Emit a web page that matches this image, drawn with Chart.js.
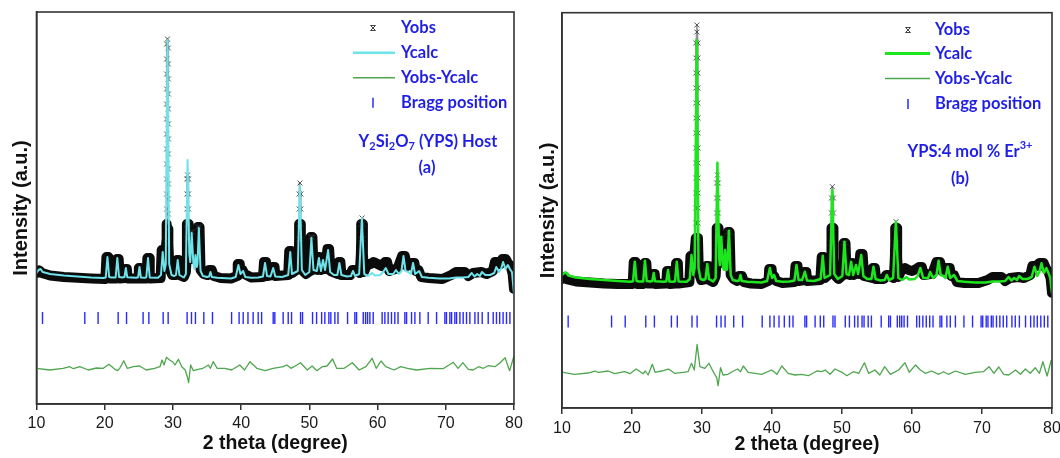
<!DOCTYPE html>
<html><head><meta charset="utf-8">
<script src="https://cdn.jsdelivr.net/npm/chart.js@4.4.0/dist/chart.umd.min.js"></script>
<style>
html,body{margin:0;padding:0;background:#fff;}
#wrap{position:relative;width:1060px;height:458px;overflow:hidden;background:#fff;}
canvas{position:absolute;top:0;}
#c1{left:0}#c2{left:530px}
</style></head><body>
<div id="wrap"><canvas id="c1" width="530" height="458"></canvas><canvas id="c2" width="530" height="458"></canvas></div>
<script>
// ---------- shared ----------
const X_TICKS = [10, 20, 30, 40, 50, 60, 70, 80];
const BRAGG_POS = [10.88,17.08,19.03,21.97,23.2,25.63,26.47,28.57,29.3,32.08,32.72,33.3,34.53,35.8,38.6,39.7,40.3,41.0,41.76,42.5,43.0,44.7,44.94,46.16,46.9,47.39,48.71,49.0,50.47,51.06,51.8,52.27,52.86,53.15,53.74,54.2,55.6,56.67,56.92,57.9,58.24,58.53,58.87,59.36,60.67,61.07,61.55,62.04,62.53,63.0,64.0,64.25,64.98,65.47,66.2,67.42,68.65,69.87,70.1,70.6,70.85,71.33,71.58,72.07,72.55,73.04,73.53,74.27,74.75,75.34,76.22,76.95,77.43,77.9,78.4,78.9,79.4];

// ---------- panel (a): Y2Si2O7 host ----------
const A_YMAX = 3920;
const A_BRAGG_LEVEL = 860;
const A_YCALC = [
[10.0,1310],[10.3,1340],[10.6,1350],[10.9,1320],[12.0,1300],[14.0,1285],[16.0,1275],[18.0,1265],[19.8,1260],
[20.15,1265],[20.4,1470],[20.65,1270],[21.0,1265],
[21.6,1265],[21.85,1460],[22.1,1270],[22.6,1265],
[22.9,1270],[23.1,1360],[23.3,1268],[24.6,1262],
[24.9,1268],[25.1,1370],[25.3,1265],[25.9,1262],
[26.1,1268],[26.35,1460],[26.6,1265],[27.8,1262],
[28.25,1290],[28.5,1520],[28.75,1330],
[28.95,1400],[29.2,3640],[29.45,1400],
[29.8,1290],[30.2,1280],[30.45,1290],[30.7,1440],[30.95,1290],
[31.6,1265],[31.9,1300],[32.15,2440],[32.4,1500],
[32.55,1420],[32.75,1710],[33.0,1400],
[33.15,1350],[33.3,1490],[33.5,1370],
[33.6,1400],[33.8,1760],[34.05,1330],
[34.4,1280],[35.0,1270],[35.3,1275],[35.5,1320],[35.7,1270],
[36.5,1262],[38.5,1255],[39.2,1270],[39.6,1390],[39.9,1300],[40.3,1330],[40.6,1270],
[41.5,1262],[42.5,1265],[43.2,1275],[43.5,1410],[43.8,1280],[44.3,1275],[44.7,1360],[45.0,1275],
[46.0,1270],[46.9,1290],[47.2,1520],[47.45,1300],
[48.3,1330],[48.6,2180],[48.9,1340],
[49.4,1290],[50.0,1320],[50.3,1660],[50.6,1340],
[51.1,1330],[51.4,1460],[51.7,1330],[52.0,1440],[52.3,1340],[52.75,1540],[53.05,1320],
[53.6,1290],[54.1,1290],[54.4,1410],[54.7,1290],
[55.5,1275],[56.1,1280],[56.4,1330],[56.7,1280],[57.3,1300],[57.7,1860],[58.05,1300],
[58.6,1280],[59.2,1310],[59.6,1285],[60.4,1290],[60.8,1320],[61.2,1360],[61.6,1300],[62.3,1300],[62.7,1340],[63.1,1300],[63.5,1330],[63.8,1480],[64.1,1330],[64.5,1320],[64.9,1300],[65.2,1410],[65.5,1300],[66.1,1330],[66.5,1270],
[67.5,1262],[69.0,1255],[70.5,1255],[71.5,1265],[72.5,1265],[73.3,1270],[73.8,1310],[74.2,1275],[74.6,1300],[75.0,1280],[75.3,1320],[75.8,1290],[76.5,1290],[77.1,1310],[77.4,1370],[77.8,1320],[78.1,1350],[78.4,1420],[78.75,1350],[79.1,1390],[79.4,1350],[79.7,1320],[80.0,1100]
];
const A_YOBS = [
[10.0,1310],[10.4,1335],[10.8,1310],[12.0,1285],[14.0,1270],[16.0,1262],[18.0,1255],[20.1,1250],
[20.25,1470],[20.55,1470],[20.7,1255],
[21.65,1255],[21.8,1450],[22.05,1450],[22.2,1255],
[22.95,1260],[23.05,1350],[23.25,1350],[23.35,1255],
[24.9,1255],[25.0,1360],[25.25,1360],[25.35,1255],
[26.15,1255],[26.25,1460],[26.5,1460],[26.6,1255],
[28.2,1260],[28.35,1540],[28.6,1540],[28.95,1560],
[29.08,1650],[29.08,1800],[29.08,1950],[29.08,2100],[29.08,2250],[29.08,2400],[29.08,2550],[29.08,2700],[29.08,2850],[29.08,3000],[29.08,3150],[29.08,3300],[29.08,3450],[29.08,3600],
[29.2,3650],
[29.33,3560],[29.33,3400],[29.33,3250],[29.33,3100],[29.33,2950],[29.33,2800],[29.33,2650],[29.33,2500],[29.33,2350],[29.33,2200],[29.33,2050],[29.33,1900],[29.33,1750],[29.33,1600],
[29.5,1350],[29.9,1290],[30.5,1290],[30.6,1440],[30.85,1440],[30.95,1290],[31.6,1270],[31.9,1320],
[32.05,1500],[32.05,1650],[32.05,1800],[32.05,1950],[32.05,2100],[32.05,2250],[32.15,2290],
[32.28,2250],[32.28,2100],[32.28,1950],[32.28,1800],[32.28,1650],
[32.35,1500],[32.55,1450],[32.6,1720],[32.85,1720],[33.0,1450],[33.2,1500],[33.3,1500],[33.4,1450],[33.65,1770],[33.9,1770],[34.05,1340],
[34.5,1300],[35.0,1290],[35.3,1340],[35.7,1340],[36.0,1280],[37.0,1260],[38.5,1255],[39.4,1280],[39.5,1400],[39.8,1400],[39.9,1310],[40.2,1340],[40.5,1300],
[41.5,1265],[43.2,1270],[43.35,1420],[43.65,1420],[43.8,1280],[44.55,1290],[44.6,1370],[44.9,1370],[45.0,1280],
[46.9,1290],[47.05,1530],[47.35,1530],[47.5,1310],
[48.3,1350],[48.45,1500],[48.5,1650],[48.5,1800],[48.5,1950],[48.5,2100],[48.62,2210],[48.75,2100],[48.75,1950],[48.75,1800],[48.75,1650],[48.75,1500],
[48.9,1340],[49.5,1300],[50.1,1330],[50.2,1670],[50.45,1670],[50.6,1350],
[51.2,1340],[51.3,1470],[51.5,1470],[51.7,1340],[51.9,1450],[52.1,1450],[52.35,1350],[52.65,1550],[52.9,1550],[53.1,1330],
[54.2,1300],[54.3,1420],[54.55,1420],[54.7,1290],[56.0,1290],[56.3,1340],[56.6,1340],
[57.4,1310],[57.55,1500],[57.6,1650],[57.6,1800],[57.72,1860],[57.85,1800],[57.85,1650],[57.85,1500],
[58.0,1320],[58.5,1400],[59.0,1400],[59.4,1420],[60.0,1400],[60.6,1380],[60.8,1400],[61.1,1420],[61.4,1420],[61.7,1330],
[62.6,1350],[62.9,1350],[63.6,1480],[64.0,1480],[64.3,1380],[65.0,1410],[65.4,1410],[65.6,1330],[66.0,1340],[66.4,1270],
[67.5,1260],[69.5,1250],[70.8,1290],[71.5,1320],[72.8,1320],[73.3,1280],[74.0,1310],[75.2,1320],[76.0,1300],[76.9,1330],
[77.2,1420],[77.8,1420],[78.0,1400],[78.3,1450],[78.8,1450],[79.1,1410],[79.5,1380],[79.8,1300],[80.0,1150]
];
const A_DIFF = [
[10.0,357],[11.95,340],[13.9,357],[14.9,373],[15.4,353],[16.35,373],[17.6,340],[18.8,360],[19.8,357],[20.6,397],[21.5,347],[21.9,333],[22.2,357],[22.8,433],[23.3,357],[24.2,373],[25.1,380],[26.1,340],[27.3,357],[28.1,373],[28.4,440],[28.7,390],[29.05,467],[29.5,440],[30.0,420],[30.3,390],[30.8,447],[31.3,373],[31.8,340],[32.1,273],[32.3,213],[32.6,390],[33.0,333],[33.7,347],[34.4,357],[35.2,390],[35.5,357],[35.9,423],[36.5,357],[37.6,357],[38.6,340],[39.8,390],[40.5,340],[41.3,423],[42.3,357],[43.5,333],[44.7,357],[46.2,373],[46.7,390],[47.3,357],[47.75,373],[48.7,413],[49.7,340],[50.4,380],[51.1,333],[51.9,373],[52.6,380],[53.4,450],[54.0,357],[55.1,357],[56.3,413],[57.3,340],[58.3,373],[59.2,457],[59.8,357],[60.5,430],[61.2,373],[62.4,340],[63.4,373],[64.4,357],[65.7,340],[67.7,357],[69.6,353],[71.1,417],[71.8,357],[72.5,413],[73.3,347],[74.0,340],[74.8,373],[75.5,357],[76.2,383],[77.2,373],[77.9,407],[78.7,463],[79.35,333],[80.0,480]
];

// ---------- panel (b): YPS:4 mol % Er3+ ----------
const B_YMAX = 3953;
const B_BRAGG_LEVEL = 865;
const B_YCALC = [
[10.0,1330],[10.3,1350],[10.6,1355],[10.9,1325],[12.0,1305],[14.0,1290],[16.0,1280],[18.0,1270],[19.8,1263],
[20.15,1268],[20.4,1463],[20.65,1270],[21.0,1265],
[21.6,1265],[21.85,1473],[22.1,1270],[22.6,1265],
[22.9,1270],[23.1,1350],[23.3,1268],[24.6,1262],
[24.9,1268],[25.15,1380],[25.35,1265],[25.9,1262],
[26.15,1268],[26.4,1463],[26.65,1265],[27.8,1262],
[28.25,1290],[28.5,1530],[28.75,1330],
[28.95,1400],[29.25,3680],[29.5,1400],
[29.8,1290],[30.2,1280],[30.5,1290],[30.75,1440],[31.0,1290],
[31.6,1265],[31.95,1300],[32.2,2453],[32.45,1500],
[32.55,1430],[32.75,1713],[33.0,1400],
[33.15,1380],[33.3,1580],[33.5,1380],
[33.6,1400],[33.85,1773],[34.1,1330],
[34.4,1280],[35.0,1270],[35.3,1275],[35.5,1330],[35.7,1270],
[36.5,1262],[38.5,1255],[39.3,1270],[39.7,1400],[40.0,1300],[40.3,1330],[40.6,1270],
[41.5,1262],[42.5,1265],[43.2,1275],[43.5,1430],[43.8,1280],[44.3,1280],[44.7,1363],[45.0,1275],
[46.0,1270],[46.95,1290],[47.25,1523],[47.5,1300],
[48.3,1330],[48.6,2180],[48.9,1340],
[49.4,1290],[50.05,1320],[50.35,1663],[50.65,1340],
[51.0,1330],[51.3,1463],[51.6,1330],[52.0,1430],[52.3,1340],[52.75,1530],[53.05,1320],
[53.6,1290],[54.2,1290],[54.5,1413],[54.8,1290],
[55.5,1275],[56.1,1280],[56.4,1330],[56.7,1280],[57.3,1300],[57.7,1863],[58.05,1300],
[58.6,1280],[59.2,1310],[59.6,1285],[60.4,1290],[60.8,1320],[61.2,1400],[61.6,1300],[62.3,1300],[62.6,1360],[63.0,1300],[63.5,1330],[63.8,1473],[64.1,1330],[64.5,1320],[64.8,1300],[65.1,1413],[65.45,1300],[66.0,1330],[66.5,1270],
[67.5,1262],[69.0,1255],[70.5,1255],[71.5,1265],[72.5,1265],[73.3,1270],[73.8,1310],[74.2,1275],[74.6,1300],[75.0,1280],[75.3,1320],[75.8,1290],[76.5,1290],[77.1,1310],[77.5,1413],[77.9,1320],[78.2,1360],[78.5,1447],[78.85,1350],[79.2,1400],[79.5,1350],[79.75,1300],[80.0,1150]
];
const B_YOBS = [
[10.0,1290],[10.4,1310],[10.8,1285],[12.0,1265],[14.0,1255],[16.0,1245],[18.0,1240],[20.1,1240],
[20.25,1460],[20.55,1460],[20.7,1240],
[21.65,1240],[21.8,1450],[22.05,1450],[22.2,1245],
[22.95,1245],[23.05,1340],[23.25,1340],[23.35,1240],
[24.9,1245],[25.0,1370],[25.3,1370],[25.4,1240],
[26.2,1245],[26.3,1450],[26.55,1450],[26.65,1245],
[28.2,1260],[28.35,1520],[28.6,1520],[28.95,1560],
[29.12,1700],[29.12,1850],[29.12,2000],[29.12,2150],[29.12,2300],[29.12,2450],[29.12,2600],[29.12,2750],[29.12,2900],[29.12,3050],[29.12,3200],[29.12,3350],[29.12,3500],[29.12,3650],
[29.27,3760],[29.27,3830],
[29.42,3650],[29.42,3500],[29.42,3350],[29.42,3200],[29.42,3050],[29.42,2900],[29.42,2750],[29.42,2600],[29.42,2450],[29.42,2300],[29.42,2150],[29.42,2000],[29.42,1850],[29.42,1700],
[29.55,1350],[29.9,1280],[30.55,1290],[30.65,1420],[30.95,1420],[31.05,1280],[31.6,1260],[31.95,1320],
[32.1,1500],[32.1,1650],[32.1,1800],[32.1,1950],[32.1,2100],[32.1,2250],[32.2,2330],
[32.32,2250],[32.32,2100],[32.32,1950],[32.32,1800],[32.32,1650],
[32.4,1500],[32.55,1450],[32.62,1700],[32.9,1700],[33.05,1450],[33.2,1560],[33.4,1560],[33.55,1450],[33.7,1760],[33.95,1760],[34.1,1330],
[34.5,1290],[35.0,1270],[35.3,1320],[35.7,1320],[36.0,1260],[37.0,1245],[38.5,1240],[39.5,1270],[39.6,1390],[39.95,1390],[40.05,1290],[40.3,1320],[40.6,1270],
[41.5,1250],[43.2,1260],[43.35,1420],[43.65,1420],[43.8,1270],[44.55,1280],[44.6,1360],[44.9,1360],[45.0,1270],
[46.9,1280],[47.1,1510],[47.4,1510],[47.55,1300],
[48.35,1350],[48.45,1500],[48.5,1650],[48.5,1800],[48.5,1950],[48.5,2100],[48.62,2213],[48.78,2100],[48.78,1950],[48.78,1800],[48.78,1650],[48.78,1500],
[48.95,1330],[49.5,1290],[50.15,1330],[50.25,1650],[50.5,1650],[50.65,1340],
[51.15,1330],[51.25,1450],[51.45,1450],[51.65,1330],[51.9,1420],[52.1,1420],[52.4,1340],[52.6,1540],[52.95,1540],[53.15,1320],
[54.3,1300],[54.4,1400],[54.7,1400],[54.85,1290],[56.0,1290],[56.3,1330],[56.6,1330],
[57.4,1300],[57.55,1500],[57.6,1650],[57.6,1800],[57.72,1863],[57.88,1800],[57.88,1650],[57.88,1500],
[58.05,1310],[58.5,1380],[59.0,1400],[59.5,1380],[60.0,1370],[60.6,1390],[61.0,1410],[61.4,1410],[61.7,1330],
[62.6,1340],[62.9,1340],[63.5,1460],[64.0,1460],[64.3,1370],[65.0,1400],[65.4,1400],[65.6,1320],[66.0,1330],[66.4,1260],
[67.5,1250],[69.5,1250],[70.8,1280],[71.5,1310],[72.8,1310],[73.3,1270],[74.0,1300],[75.2,1310],[76.0,1300],[76.9,1330],
[77.2,1420],[77.8,1420],[78.2,1450],[78.8,1450],[79.1,1400],[79.5,1360],[79.8,1300],[80.0,1150]
];
const B_DIFF = [
[10.15,357],[11.8,337],[13.7,350],[14.7,370],[15.2,357],[16.6,370],[17.5,343],[18.97,363],[19.7,343],[20.6,390],[21.6,343],[21.9,370],[22.3,330],[22.9,437],[23.3,357],[24.2,370],[25.2,390],[26.1,347],[27.3,357],[28.0,363],[28.5,447],[28.9,380],[29.3,637],[29.7,413],[30.4,397],[30.99,447],[31.6,363],[32.1,303],[32.3,223],[32.65,403],[33.0,330],[33.7,337],[34.5,370],[35.1,390],[35.5,363],[35.9,420],[36.6,357],[37.6,347],[38.5,337],[39.95,380],[40.7,337],[41.4,420],[42.3,347],[43.3,330],[44.2,337],[45.2,323],[46.4,370],[47.1,363],[47.6,380],[48.3,337],[49.0,390],[50.0,357],[50.7,323],[51.6,363],[52.4,347],[53.2,453],[53.8,347],[54.7,380],[55.4,330],[56.1,413],[56.9,337],[58.1,380],[59.0,453],[59.6,357],[60.5,430],[61.2,380],[61.9,347],[62.8,370],[63.8,337],[64.5,363],[65.2,337],[66.2,370],[67.6,337],[69.0,357],[70.2,363],[71.0,413],[71.7,347],[72.4,410],[73.1,337],[73.8,330],[74.8,380],[75.5,337],[76.2,390],[76.9,347],[77.6,403],[78.2,347],[78.7,463],[79.3,320],[79.9,480]
];

// ---------- styles ----------
const TEXT_BLUE = '#1e1ee6';
const FRAME = '#333333';
const AXIS_FONT = "'Liberation Sans', Arial, sans-serif";
const LEGEND_FONT = "Lato, 'Open Sans', sans-serif";

function drawCross(ctx, x, y, r, color) {
  ctx.save();
  ctx.strokeStyle = color; ctx.lineWidth = 1;
  ctx.beginPath();
  ctx.moveTo(x - r, y - r); ctx.lineTo(x + r, y + r);
  ctx.moveTo(x + r, y - r); ctx.lineTo(x - r, y + r);
  ctx.moveTo(x - r, y - r); ctx.lineTo(x + r, y - r);
  ctx.moveTo(x - r, y + r); ctx.lineTo(x + r, y + r);
  ctx.stroke();
  ctx.restore();
}

function drawRich(ctx, parts, cx, cy, size) {
  const small = Math.round(size * 0.66);
  let total = 0;
  const widths = parts.map(([t, k]) => {
    ctx.font = 'bold ' + (k ? small : size) + 'px ' + LEGEND_FONT;
    const w = ctx.measureText(t).width; total += w; return w;
  });
  let x = cx - total / 2;
  parts.forEach(([t, k], i) => {
    ctx.font = 'bold ' + (k ? small : size) + 'px ' + LEGEND_FONT;
    const dy = k === 'sub' ? size * 0.28 : (k === 'sup' ? -size * 0.38 : 0);
    ctx.fillText(t, x, cy + dy);
    x += widths[i];
  });
}

function legendPlugin(L) {
  return {
    id: 'rietveldLegend',
    afterDraw(chart) {
      const ctx = chart.ctx;
      const ds = chart.data.datasets;
      ctx.save();
      ctx.textBaseline = 'middle'; ctx.textAlign = 'left';
      ctx.fillStyle = TEXT_BLUE;
      ctx.font = 'bold ' + L.size + 'px ' + LEGEND_FONT;
      drawCross(ctx, L.markX, L.rows[0], 2.5, '#444');
      ctx.fillText(ds[1].label, L.textX, L.rows[0]);
      ctx.strokeStyle = ds[0].borderColor; ctx.lineWidth = L.calcW;
      ctx.beginPath(); ctx.moveTo(L.lineX0, L.rows[1]); ctx.lineTo(L.lineX1, L.rows[1]); ctx.stroke();
      ctx.fillText(ds[0].label, L.textX, L.rows[1]);
      ctx.strokeStyle = ds[2].borderColor; ctx.lineWidth = 1.6;
      ctx.beginPath(); ctx.moveTo(L.lineX0, L.rows[2]); ctx.lineTo(L.lineX1, L.rows[2]); ctx.stroke();
      ctx.fillText(ds[2].label, L.textX, L.rows[2]);
      ctx.strokeStyle = ds[3].borderColor; ctx.lineWidth = 1.5;
      ctx.beginPath(); ctx.moveTo(L.markX, L.rows[3] - 5); ctx.lineTo(L.markX, L.rows[3] + 5); ctx.stroke();
      ctx.fillText(ds[3].label, L.textX, L.rows[3]);
      drawRich(ctx, L.note, L.noteX, L.noteY, L.size);
      ctx.font = 'bold ' + L.size + 'px ' + LEGEND_FONT;
      ctx.textAlign = 'center';
      ctx.fillText(L.tag, L.tagX, L.tagY);
      ctx.restore();
    }
  };
}

const framePlugin = {
  id: 'frame',
  afterDraw(chart) {
    const {ctx, chartArea: a} = chart;
    ctx.save();
    ctx.strokeStyle = FRAME; ctx.lineWidth = 1.6;
    ctx.strokeRect(a.left, a.top, a.right - a.left, a.bottom - a.top);
    ctx.restore();
  }
};

function makeChart(id, P) {
  const thin = P.thinAbove;
  const isThin = (c) => P.obs[c.p0DataIndex][1] >= thin && P.obs[c.p1DataIndex][1] >= thin;
  const datasets = [
    { label: 'Ycalc', data: P.calc, showLine: true, borderColor: P.calcColor, borderWidth: P.calcW,
      pointRadius: 0, borderJoinStyle: 'round', order: 0 },
    { label: 'Yobs', data: P.obs, showLine: true, borderColor: '#0b0b0b', borderWidth: 10,
      borderJoinStyle: 'round', borderCapStyle: 'round', order: 2,
      pointStyle: 'crossRot', pointBorderColor: 'rgba(55,55,55,0.85)', pointBackgroundColor: 'rgba(0,0,0,0)', pointBorderWidth: 1,
      pointRadius: (c) => { const v = P.obs[c.dataIndex]; return v && v[1] >= 1600 ? 3.5 : 0; },
      segment: {
        borderWidth: (c) => isThin(c) ? 1.5 : undefined,
        borderColor: (c) => isThin(c) ? 'rgba(110,110,110,0.75)' : undefined
      } },
    { label: 'Yobs-Ycalc', data: P.diff, showLine: true, borderColor: '#4ea64e', borderWidth: 1.3,
      pointRadius: 0, borderJoinStyle: 'round', order: 3 },
    { label: 'Bragg position', data: BRAGG_POS.map(x => ({x: x, y: P.braggLevel})), showLine: false,
      pointStyle: 'line', rotation: 90, pointRadius: 6, borderColor: '#2a2aff', pointBorderColor: '#2a2aff', pointBorderWidth: 1.4, order: 4 }
  ];
  return new Chart(document.getElementById(id), {
    type: 'scatter',
    data: { datasets },
    options: {
      responsive: false, animation: false, devicePixelRatio: 1, events: [],
      layout: { padding: { top: P.padTop, right: P.padRight, left: 0, bottom: 0 } },
      plugins: { legend: { display: false }, tooltip: { enabled: false } },
      scales: {
        x: {
          type: 'linear', min: 10, max: 80,
          afterBuildTicks: (s) => { s.ticks = X_TICKS.map(v => ({ value: v })); },
          afterFit: (s) => { s.height = P.xAxisH; s.paddingLeft = 0; s.paddingRight = 0; },
          ticks: { color: '#1a1a1a', font: { family: AXIS_FONT, size: 16 }, padding: P.tickPad, maxRotation: 0, autoSkip: false },
          grid: { display: true, drawOnChartArea: false, drawTicks: true, tickLength: 6, color: FRAME, lineWidth: 1.5 },
          border: { display: true, color: FRAME, width: 1.6 },
          title: { display: true, text: '2 theta (degree)', color: '#111', font: { family: AXIS_FONT, size: 19.5, weight: 'bold', lineHeight: 1 }, padding: { top: 0, bottom: P.xTitlePad } }
        },
        y: {
          type: 'linear', min: 0, max: P.ymax,
          afterFit: (s) => { s.width = P.yAxisW; },
          ticks: { display: false },
          grid: { display: false, drawTicks: false },
          border: { display: true, color: FRAME, width: 1.6 },
          title: { display: true, text: 'Intensity (a.u.)', color: '#111', font: { family: AXIS_FONT, size: 20, weight: 'bold', lineHeight: 1 }, padding: { top: P.yTitlePad, bottom: 0 } }
        }
      }
    },
    plugins: [framePlugin, legendPlugin(P.legend)]
  });
}

makeChart('c1', {
  calc: A_YCALC, obs: A_YOBS, diff: A_DIFF, braggLevel: A_BRAGG_LEVEL, ymax: A_YMAX,
  calcColor: '#6fe3ea', calcW: 2, thinAbove: 1700,
  padTop: 12, padRight: 16, xAxisH: 54, yAxisW: 36.5, tickPad: 4, xTitlePad: 4.3, yTitlePad: 11.5,
  legend: { size: 16.5, markX: 373, textX: 401, lineX0: 353, lineX1: 395, rows: [28, 52.7, 77.7, 102.7], calcW: 2.5,
    note: [['Y',''],['2','sub'],['Si',''],['2','sub'],['O',''],['7','sub'],[' (YPS) Host','']], noteX: 428, noteY: 142,
    tag: '(a)', tagX: 427, tagY: 168 }
});
makeChart('c2', {
  calc: B_YCALC, obs: B_YOBS, diff: B_DIFF, braggLevel: B_BRAGG_LEVEL, ymax: B_YMAX,
  calcColor: '#1ee61e', calcW: 2.5, thinAbove: 1700,
  padTop: 12.7, padRight: 8, xAxisH: 50, yAxisW: 32, tickPad: 5, xTitlePad: 3.3, yTitlePad: 8.5,
  legend: { size: 16.5, markX: 378, textX: 405, lineX0: 355, lineX1: 400, rows: [30, 53.5, 78.5, 104], calcW: 3,
    note: [['YPS:4 mol % Er',''],['3+','sup']], noteX: 440, noteY: 152,
    tag: '(b)', tagX: 430, tagY: 179 }
});
</script>
</body></html>
